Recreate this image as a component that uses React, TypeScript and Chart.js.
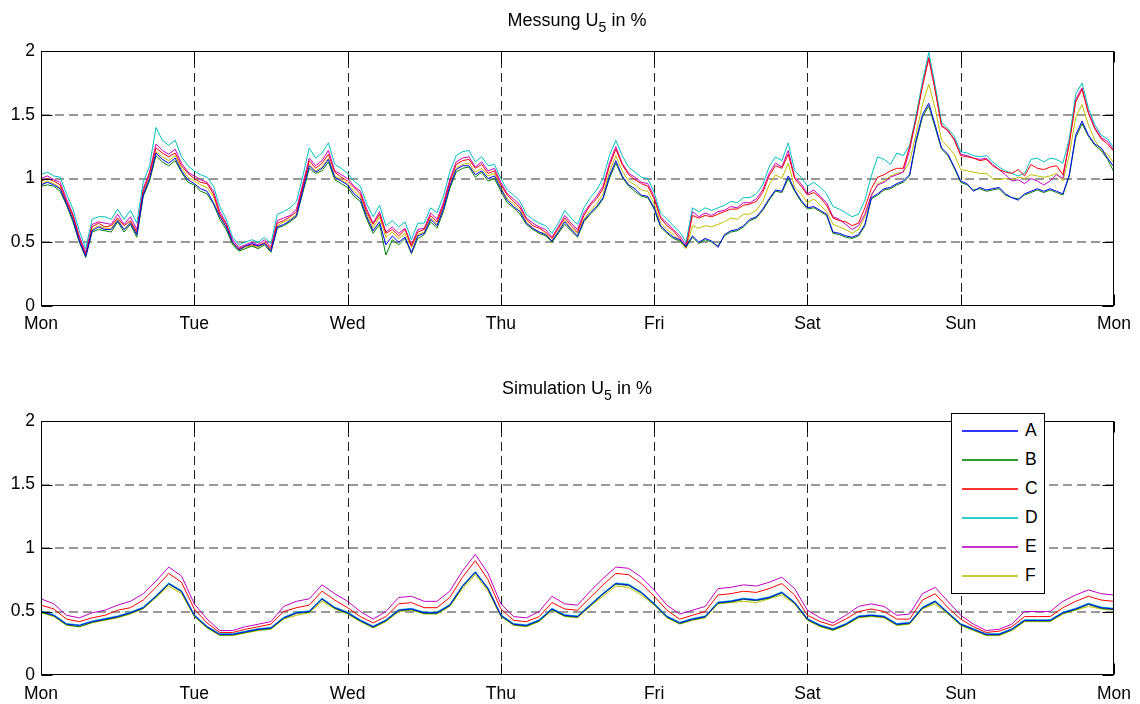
import React, { useEffect, useRef } from 'react';
import { Chart, registerables } from 'chart.js';

Chart.register(...registerables);

// ---------- axis labels / categories ----------
const dayLabels = ['Mon', 'Tue', 'Wed', 'Thu', 'Fri', 'Sat', 'Sun', 'Mon'];
const seriesNames = ['A', 'B', 'C', 'D', 'E', 'F'];
const seriesColors = ['#0000ff', '#008000', '#ff0000', '#00bfbf', '#bf00bf', '#bfbf00'];
const yMin = 0;
const yMax = 2;
const yStep = 0.5;
const hoursPerDay = 24;
const messungStepHours = 1;
const simulationStepHours = 2;

// ---------- Messung (measurement), hourly values in % ----------
const messA = [
  0.95, 0.97, 0.95, 0.92, 0.80, 0.68, 0.51, 0.39, 0.59, 0.62,
  0.60, 0.60, 0.67, 0.60, 0.65, 0.56, 0.87, 1.00, 1.20, 1.15,
  1.12, 1.16, 1.06, 0.99, 0.96, 0.92, 0.90, 0.81, 0.70, 0.62,
  0.50, 0.44, 0.47, 0.49, 0.47, 0.49, 0.43, 0.62, 0.64, 0.67,
  0.71, 0.91, 1.10, 1.05, 1.08, 1.15, 1.01, 0.98, 0.95, 0.88,
  0.84, 0.70, 0.59, 0.66, 0.48, 0.55, 0.50, 0.54, 0.42, 0.55,
  0.57, 0.68, 0.63, 0.76, 0.94, 1.07, 1.10, 1.10, 1.03, 1.06,
  1.00, 1.02, 0.92, 0.83, 0.78, 0.74, 0.65, 0.61, 0.58, 0.56,
  0.51, 0.58, 0.66, 0.60, 0.55, 0.67, 0.73, 0.78, 0.85, 1.02,
  1.14, 1.02, 0.95, 0.92, 0.87, 0.86, 0.77, 0.63, 0.58, 0.54,
  0.52, 0.47, 0.55, 0.50, 0.53, 0.51, 0.46, 0.56, 0.59, 0.60,
  0.63, 0.68, 0.70, 0.76, 0.84, 0.91, 0.90, 1.02, 0.91, 0.83,
  0.77, 0.78, 0.75, 0.72, 0.58, 0.57, 0.55, 0.54, 0.56, 0.64,
  0.85, 0.88, 0.92, 0.93, 0.96, 0.98, 1.03, 1.30, 1.50, 1.59,
  1.42, 1.24, 1.19, 1.09, 0.98, 0.96, 0.90, 0.93, 0.91, 0.92,
  0.93, 0.88, 0.85, 0.83, 0.88, 0.90, 0.92, 0.90, 0.92, 0.90,
  0.88, 1.03, 1.34, 1.45, 1.34, 1.27, 1.24, 1.16, 1.09,
];
const messB = [
  0.94, 0.95, 0.94, 0.90, 0.79, 0.66, 0.50, 0.38, 0.58, 0.60,
  0.59, 0.58, 0.66, 0.58, 0.64, 0.54, 0.86, 0.98, 1.18, 1.13,
  1.10, 1.14, 1.05, 0.97, 0.95, 0.90, 0.88, 0.80, 0.68, 0.60,
  0.48, 0.43, 0.45, 0.47, 0.45, 0.48, 0.42, 0.61, 0.63, 0.66,
  0.70, 0.89, 1.08, 1.04, 1.06, 1.13, 0.99, 0.96, 0.93, 0.86,
  0.82, 0.68, 0.57, 0.64, 0.40, 0.52, 0.48, 0.53, 0.41, 0.53,
  0.56, 0.66, 0.61, 0.74, 0.92, 1.05, 1.08, 1.09, 1.01, 1.05,
  0.98, 1.00, 0.90, 0.81, 0.77, 0.72, 0.64, 0.60, 0.57, 0.55,
  0.50, 0.57, 0.64, 0.59, 0.54, 0.66, 0.72, 0.77, 0.84, 1.00,
  1.12, 1.01, 0.94, 0.90, 0.86, 0.85, 0.76, 0.62, 0.57, 0.53,
  0.51, 0.46, 0.54, 0.49, 0.52, 0.50, 0.47, 0.55, 0.58, 0.59,
  0.62, 0.67, 0.69, 0.75, 0.83, 0.90, 0.89, 1.00, 0.90, 0.82,
  0.76, 0.77, 0.74, 0.71, 0.57, 0.56, 0.54, 0.53, 0.55, 0.63,
  0.84, 0.87, 0.91, 0.92, 0.95, 0.97, 1.02, 1.28, 1.48, 1.57,
  1.40, 1.23, 1.18, 1.08, 0.97, 0.95, 0.91, 0.92, 0.90, 0.91,
  0.92, 0.87, 0.85, 0.84, 0.87, 0.89, 0.91, 0.89, 0.91, 0.89,
  0.87, 1.02, 1.32, 1.43, 1.33, 1.26, 1.22, 1.15, 1.05,
];
const messC = [
  0.98, 1.00, 0.98, 0.95, 0.82, 0.71, 0.53, 0.40, 0.62, 0.65,
  0.62, 0.63, 0.69, 0.63, 0.67, 0.58, 0.90, 1.04, 1.24, 1.20,
  1.17, 1.20, 1.10, 1.04, 1.00, 0.97, 0.96, 0.88, 0.72, 0.64,
  0.50, 0.45, 0.47, 0.48, 0.47, 0.50, 0.45, 0.65, 0.67, 0.70,
  0.74, 0.94, 1.14, 1.08, 1.12, 1.19, 1.05, 1.01, 0.98, 0.93,
  0.88, 0.74, 0.64, 0.72, 0.57, 0.60, 0.55, 0.60, 0.47, 0.58,
  0.60, 0.71, 0.66, 0.79, 0.97, 1.11, 1.14, 1.15, 1.08, 1.11,
  1.04, 1.06, 0.95, 0.87, 0.82, 0.77, 0.68, 0.63, 0.61, 0.58,
  0.53, 0.61, 0.69, 0.63, 0.58, 0.71, 0.79, 0.84, 0.92, 1.10,
  1.23, 1.11, 1.03, 0.99, 0.96, 0.94, 0.84, 0.69, 0.63, 0.59,
  0.53, 0.46, 0.71, 0.69, 0.71, 0.70, 0.72, 0.74, 0.76, 0.76,
  0.79, 0.80, 0.82, 0.89, 1.02, 1.10, 1.08, 1.19, 1.00, 0.94,
  0.87, 0.89, 0.85, 0.79, 0.69, 0.67, 0.66, 0.63, 0.65, 0.77,
  0.92, 1.01, 1.03, 1.06, 1.08, 1.08, 1.25, 1.46, 1.72, 1.94,
  1.69, 1.41, 1.38, 1.30, 1.18, 1.17, 1.16, 1.14, 1.15, 1.10,
  1.07, 1.05, 1.04, 1.07, 1.02, 1.11, 1.08, 1.07, 1.09, 1.10,
  1.03, 1.27, 1.60, 1.70, 1.51, 1.39, 1.31, 1.27, 1.21,
];
const messD = [
  1.03, 1.05, 1.02, 1.01, 0.88, 0.76, 0.59, 0.45, 0.68, 0.70,
  0.70, 0.68, 0.76, 0.68, 0.75, 0.65, 0.97, 1.10, 1.40, 1.30,
  1.26, 1.30, 1.17, 1.10, 1.06, 1.03, 1.01, 0.94, 0.78, 0.68,
  0.54, 0.48, 0.50, 0.52, 0.50, 0.54, 0.49, 0.72, 0.74, 0.77,
  0.82, 1.02, 1.24, 1.16, 1.20, 1.28, 1.11, 1.08, 1.04, 0.98,
  0.94, 0.80, 0.70, 0.79, 0.63, 0.67, 0.62, 0.66, 0.52, 0.65,
  0.65, 0.77, 0.73, 0.86, 1.05, 1.18, 1.21, 1.22, 1.13, 1.17,
  1.10, 1.11, 1.00, 0.91, 0.87, 0.82, 0.72, 0.68, 0.65, 0.63,
  0.57, 0.65, 0.75, 0.69, 0.64, 0.77, 0.85, 0.91, 1.00, 1.18,
  1.30, 1.18, 1.09, 1.05, 1.01, 1.00, 0.89, 0.73, 0.68, 0.63,
  0.58, 0.50, 0.77, 0.74, 0.77, 0.75, 0.77, 0.79, 0.82, 0.81,
  0.85, 0.85, 0.88, 0.95, 1.09, 1.17, 1.14, 1.28, 1.06, 1.01,
  0.94, 0.97, 0.93, 0.88, 0.78, 0.76, 0.73, 0.70, 0.72, 0.83,
  1.02, 1.17, 1.15, 1.11, 1.20, 1.18, 1.26, 1.49, 1.76, 1.99,
  1.73, 1.44, 1.39, 1.33, 1.21, 1.20, 1.18, 1.17, 1.18, 1.13,
  1.09, 1.06, 1.04, 1.02, 1.04, 1.15, 1.16, 1.13, 1.16, 1.15,
  1.12, 1.31, 1.66, 1.75, 1.55, 1.42, 1.34, 1.31, 1.24,
];
const messE = [
  1.00, 1.02, 0.99, 0.97, 0.84, 0.72, 0.55, 0.42, 0.64, 0.66,
  0.65, 0.64, 0.72, 0.64, 0.70, 0.60, 0.92, 1.05, 1.27, 1.22,
  1.19, 1.23, 1.12, 1.05, 1.02, 0.99, 0.97, 0.90, 0.74, 0.65,
  0.52, 0.46, 0.48, 0.50, 0.48, 0.52, 0.46, 0.67, 0.69, 0.71,
  0.76, 0.96, 1.16, 1.10, 1.14, 1.22, 1.06, 1.03, 1.00, 0.94,
  0.90, 0.76, 0.65, 0.74, 0.58, 0.62, 0.57, 0.61, 0.48, 0.60,
  0.61, 0.73, 0.68, 0.81, 0.99, 1.13, 1.16, 1.17, 1.09, 1.13,
  1.06, 1.08, 0.97, 0.88, 0.84, 0.79, 0.69, 0.65, 0.62, 0.60,
  0.54, 0.62, 0.71, 0.65, 0.60, 0.73, 0.80, 0.86, 0.94, 1.12,
  1.25, 1.12, 1.04, 1.01, 0.97, 0.96, 0.86, 0.70, 0.65, 0.60,
  0.55, 0.48, 0.74, 0.70, 0.73, 0.71, 0.74, 0.75, 0.78, 0.77,
  0.81, 0.81, 0.84, 0.91, 1.04, 1.12, 1.09, 1.22, 1.01, 0.96,
  0.88, 0.91, 0.86, 0.81, 0.70, 0.68, 0.64, 0.60, 0.63, 0.72,
  0.87, 0.95, 0.97, 1.01, 1.03, 1.05, 1.22, 1.47, 1.73, 1.95,
  1.70, 1.42, 1.37, 1.31, 1.19, 1.18, 1.16, 1.15, 1.16, 1.11,
  1.07, 1.03, 0.98, 0.99, 0.96, 1.00, 0.98, 0.95, 0.98, 1.03,
  1.00, 1.29, 1.62, 1.71, 1.52, 1.40, 1.32, 1.29, 1.22,
];
const messF = [
  0.96, 0.98, 0.96, 0.93, 0.81, 0.69, 0.52, 0.40, 0.60, 0.63,
  0.61, 0.61, 0.68, 0.60, 0.66, 0.57, 0.88, 1.01, 1.21, 1.17,
  1.14, 1.18, 1.08, 1.01, 0.98, 0.95, 0.93, 0.86, 0.71, 0.62,
  0.49, 0.44, 0.46, 0.47, 0.46, 0.49, 0.44, 0.63, 0.66, 0.68,
  0.72, 0.92, 1.11, 1.06, 1.09, 1.16, 1.02, 0.99, 0.96, 0.90,
  0.86, 0.72, 0.61, 0.70, 0.54, 0.58, 0.53, 0.57, 0.46, 0.56,
  0.58, 0.69, 0.64, 0.77, 0.94, 1.08, 1.11, 1.12, 1.05, 1.08,
  1.02, 1.04, 0.93, 0.84, 0.80, 0.75, 0.66, 0.61, 0.58, 0.57,
  0.51, 0.59, 0.67, 0.61, 0.57, 0.68, 0.75, 0.80, 0.88, 1.05,
  1.18, 1.06, 0.98, 0.95, 0.91, 0.90, 0.80, 0.65, 0.60, 0.56,
  0.51, 0.45, 0.63, 0.61, 0.63, 0.62, 0.64, 0.66, 0.69, 0.68,
  0.72, 0.72, 0.75, 0.82, 0.95, 1.03, 1.00, 1.12, 0.93, 0.88,
  0.81, 0.84, 0.79, 0.74, 0.64, 0.62, 0.60, 0.57, 0.60, 0.70,
  0.86, 0.96, 0.98, 1.02, 1.04, 1.05, 1.13, 1.35, 1.58, 1.74,
  1.55, 1.30, 1.25, 1.19, 1.07, 1.06, 1.05, 1.04, 1.04, 1.00,
  0.99, 1.00, 0.99, 1.01, 1.00, 1.03, 1.02, 1.01, 1.02, 1.04,
  0.98, 1.18, 1.48, 1.58, 1.42, 1.30, 1.22, 1.19, 1.12,
];

// ---------- Simulation, two-hourly values in % ----------
const simA = [
  0.50, 0.47, 0.40, 0.39, 0.42, 0.44, 0.46, 0.49, 0.53, 0.62,
  0.72, 0.66, 0.47, 0.38, 0.32, 0.32, 0.34, 0.36, 0.37, 0.45,
  0.49, 0.50, 0.60, 0.53, 0.49, 0.43, 0.38, 0.43, 0.51, 0.52,
  0.49, 0.49, 0.55, 0.70, 0.81, 0.68, 0.47, 0.40, 0.39, 0.43,
  0.52, 0.47, 0.46, 0.55, 0.64, 0.72, 0.71, 0.65, 0.56, 0.46,
  0.41, 0.44, 0.46, 0.57, 0.58, 0.60, 0.59, 0.61, 0.65, 0.57,
  0.44, 0.39, 0.36, 0.40, 0.46, 0.47, 0.46, 0.40, 0.41, 0.53,
  0.58, 0.49, 0.40, 0.36, 0.32, 0.32, 0.36, 0.43, 0.43, 0.43,
  0.49, 0.52, 0.56, 0.53, 0.52,
];
const simB = [
  0.495, 0.465, 0.395, 0.38, 0.415, 0.435, 0.455, 0.485, 0.525, 0.615,
  0.715, 0.655, 0.465, 0.375, 0.315, 0.315, 0.335, 0.355, 0.365, 0.445,
  0.485, 0.495, 0.595, 0.525, 0.485, 0.425, 0.375, 0.425, 0.505, 0.515,
  0.485, 0.485, 0.545, 0.695, 0.805, 0.675, 0.465, 0.395, 0.385, 0.425,
  0.515, 0.465, 0.455, 0.545, 0.635, 0.715, 0.705, 0.645, 0.555, 0.455,
  0.405, 0.435, 0.455, 0.565, 0.575, 0.595, 0.585, 0.605, 0.645, 0.565,
  0.435, 0.385, 0.355, 0.395, 0.455, 0.465, 0.455, 0.395, 0.405, 0.525,
  0.575, 0.485, 0.395, 0.355, 0.315, 0.315, 0.355, 0.425, 0.425, 0.425,
  0.485, 0.515, 0.555, 0.525, 0.515,
];
const simC = [
  0.55, 0.52, 0.44, 0.42, 0.45, 0.47, 0.51, 0.53, 0.59, 0.69,
  0.80, 0.73, 0.52, 0.41, 0.335, 0.335, 0.36, 0.38, 0.40, 0.50,
  0.53, 0.55, 0.66, 0.59, 0.53, 0.46, 0.41, 0.46, 0.56, 0.57,
  0.53, 0.53, 0.61, 0.77, 0.90, 0.75, 0.52, 0.43, 0.42, 0.46,
  0.57, 0.52, 0.51, 0.61, 0.71, 0.80, 0.79, 0.72, 0.62, 0.51,
  0.44, 0.47, 0.50, 0.63, 0.64, 0.66, 0.65, 0.68, 0.72, 0.63,
  0.47, 0.42, 0.39, 0.44, 0.50, 0.52, 0.50, 0.44, 0.44, 0.59,
  0.64, 0.53, 0.44, 0.38, 0.335, 0.345, 0.38, 0.46, 0.46, 0.46,
  0.53, 0.58, 0.62, 0.59, 0.58,
];
const simD = [
  0.505, 0.475, 0.405, 0.395, 0.425, 0.445, 0.465, 0.495, 0.535, 0.625,
  0.725, 0.665, 0.475, 0.385, 0.325, 0.325, 0.345, 0.365, 0.375, 0.455,
  0.495, 0.505, 0.605, 0.535, 0.495, 0.435, 0.385, 0.435, 0.515, 0.525,
  0.495, 0.495, 0.555, 0.705, 0.815, 0.685, 0.475, 0.405, 0.395, 0.435,
  0.525, 0.475, 0.465, 0.555, 0.645, 0.725, 0.715, 0.655, 0.565, 0.465,
  0.415, 0.445, 0.465, 0.575, 0.585, 0.605, 0.595, 0.615, 0.655, 0.575,
  0.445, 0.395, 0.365, 0.405, 0.465, 0.475, 0.465, 0.405, 0.415, 0.535,
  0.585, 0.495, 0.405, 0.365, 0.325, 0.325, 0.365, 0.435, 0.435, 0.435,
  0.495, 0.525, 0.565, 0.535, 0.525,
];
const simE = [
  0.60, 0.56, 0.47, 0.45, 0.49, 0.51, 0.55, 0.58, 0.64, 0.74,
  0.85, 0.78, 0.56, 0.44, 0.35, 0.35, 0.38, 0.40, 0.42, 0.54,
  0.58, 0.60, 0.71, 0.64, 0.58, 0.50, 0.44, 0.50, 0.61, 0.62,
  0.58, 0.58, 0.66, 0.82, 0.95, 0.80, 0.56, 0.46, 0.45, 0.50,
  0.62, 0.56, 0.55, 0.66, 0.76, 0.85, 0.84, 0.77, 0.67, 0.55,
  0.48, 0.51, 0.54, 0.68, 0.69, 0.71, 0.70, 0.73, 0.77, 0.68,
  0.51, 0.45, 0.41, 0.47, 0.54, 0.56, 0.54, 0.47, 0.48, 0.64,
  0.69, 0.58, 0.47, 0.40, 0.35, 0.36, 0.40, 0.50, 0.50, 0.50,
  0.58, 0.63, 0.67, 0.64, 0.63,
];
const simF = [
  0.49, 0.46, 0.39, 0.38, 0.41, 0.43, 0.45, 0.48, 0.52, 0.61,
  0.70, 0.64, 0.46, 0.37, 0.31, 0.31, 0.33, 0.35, 0.36, 0.44,
  0.47, 0.49, 0.58, 0.52, 0.48, 0.42, 0.37, 0.42, 0.50, 0.51,
  0.48, 0.48, 0.54, 0.68, 0.79, 0.66, 0.46, 0.39, 0.38, 0.42,
  0.51, 0.46, 0.45, 0.54, 0.62, 0.70, 0.69, 0.63, 0.55, 0.45,
  0.40, 0.43, 0.45, 0.56, 0.57, 0.58, 0.57, 0.60, 0.63, 0.56,
  0.43, 0.38, 0.35, 0.39, 0.45, 0.46, 0.45, 0.39, 0.40, 0.52,
  0.56, 0.48, 0.39, 0.35, 0.31, 0.31, 0.35, 0.42, 0.42, 0.42,
  0.48, 0.51, 0.54, 0.52, 0.51,
];

const messSeries = [messA, messB, messC, messD, messE, messF];
const simSeries = [simA, simB, simC, simD, simE, simF];

const FONT_FAMILY = "'Liberation Sans', Arial, Helvetica, sans-serif";

// MATLAB-like axes: dashed grid beneath data, solid box with inward ticks on top
const matlabAxes = {
  id: 'matlabAxes',
  beforeDatasetsDraw(chart: any) {
    const { ctx, chartArea: a, scales } = chart;
    const xs = scales.x;
    const ys = scales.y;
    ctx.save();
    ctx.lineWidth = 1;
    ctx.setLineDash([9, 5]);
    ctx.strokeStyle = '#222';
    xs.ticks.forEach((t: any) => {
      const x = Math.round(xs.getPixelForValue(t.value)) + 0.5;
      if (x < a.left + 2 || x > a.right - 2) return;
      ctx.beginPath();
      ctx.moveTo(x, a.bottom);
      ctx.lineTo(x, a.top);
      ctx.stroke();
    });
    ctx.strokeStyle = '#333';
    ys.ticks.forEach((t: any) => {
      const y = Math.round(ys.getPixelForValue(t.value));
      if (y < a.top + 2 || y > a.bottom - 2) return;
      ctx.beginPath();
      ctx.moveTo(a.left, y);
      ctx.lineTo(a.right, y);
      ctx.stroke();
    });
    ctx.restore();
  },
  afterDatasetsDraw(chart: any) {
    const { ctx, chartArea: a, scales } = chart;
    const xs = scales.x;
    const ys = scales.y;
    const tick = 11;
    ctx.save();
    ctx.setLineDash([]);
    ctx.strokeStyle = '#000';
    ctx.lineWidth = 1;
    const l = Math.round(a.left) + 0.5;
    const r = Math.round(a.right) - 0.5;
    const t = Math.round(a.top) + 0.5;
    const b = Math.round(a.bottom) - 0.5;
    ctx.strokeRect(l, t, r - l, b - t);
    ctx.beginPath();
    xs.ticks.forEach((tk: any) => {
      const x = Math.round(xs.getPixelForValue(tk.value)) + 0.5;
      ctx.moveTo(x, b);
      ctx.lineTo(x, b - tick);
      ctx.moveTo(x, t);
      ctx.lineTo(x, t + tick);
    });
    ys.ticks.forEach((tk: any) => {
      const y = Math.round(ys.getPixelForValue(tk.value)) + 0.5;
      ctx.moveTo(l, y);
      ctx.lineTo(l + tick, y);
      ctx.moveTo(r, y);
      ctx.lineTo(r - tick, y);
    });
    ctx.stroke();
    ctx.restore();
  },
};

type PanelProps = {
  series: number[][];
  stepHours: number;
  top: number;
  height: number;
  padTop: number;
  axisHeight: number;
  labelPad: number;
};

function Panel({ series, stepHours, top, height, padTop, axisHeight, labelPad }: PanelProps) {
  const ref = useRef<HTMLCanvasElement | null>(null);
  useEffect(() => {
    if (!ref.current) return;
    const tickFont = { family: FONT_FAMILY, size: 17.5 };
    const chart = new Chart(ref.current, {
      type: 'line',
      data: {
        datasets: series.map((vals, k) => ({
          label: seriesNames[k],
          data: vals.map((v, i) => ({ x: i * stepHours, y: v })),
          borderColor: seriesColors[k],
          backgroundColor: seriesColors[k],
          borderWidth: 1,
          pointRadius: 0,
          tension: 0,
          fill: false,
        })),
      },
      options: {
        responsive: false,
        maintainAspectRatio: false,
        animation: false,
        devicePixelRatio: 1,
        layout: { padding: { left: 0, right: 26, top: padTop, bottom: 0 } },
        plugins: {
          legend: { display: false },
          tooltip: { enabled: false },
          title: { display: false },
        },
        scales: {
          x: {
            type: 'linear',
            min: 0,
            max: hoursPerDay * (dayLabels.length - 1),
            ticks: {
              stepSize: hoursPerDay,
              autoSkip: false,
              maxRotation: 0,
              minRotation: 0,
              padding: labelPad,
              color: '#000',
              font: tickFont,
              callback: (v: any) => dayLabels[Math.round(Number(v) / hoursPerDay)],
            },
            grid: { display: false, drawTicks: false },
            border: { display: false },
            afterFit: (s: any) => {
              s.height = axisHeight;
            },
          },
          y: {
            min: yMin,
            max: yMax,
            ticks: {
              stepSize: yStep,
              padding: 6,
              color: '#000',
              font: tickFont,
              callback: (v: any) => String(v),
            },
            grid: { display: false, drawTicks: false },
            border: { display: false },
            afterFit: (s: any) => {
              s.width = 41;
            },
          },
        },
      } as any,
      plugins: [matlabAxes],
    });
    return () => chart.destroy();
  }, [series, stepHours, padTop, axisHeight, labelPad]);
  return (
    <canvas
      ref={ref}
      width={1140}
      height={height}
      style={{ position: 'absolute', left: 0, top, width: 1140, height, display: 'block' }}
    />
  );
}

function Title({ main, top }: { main: string; top: number }) {
  return (
    <div
      style={{
        position: 'absolute',
        left: 377,
        width: 400,
        top,
        textAlign: 'center',
        fontFamily: FONT_FAMILY,
        fontSize: 18,
        lineHeight: '20px',
        color: '#000',
        whiteSpace: 'nowrap',
      }}
    >
      {main} U<span style={{ fontSize: 14, verticalAlign: '-6px' }}>5</span> in %
    </div>
  );
}

function Legend() {
  const rowTop = [17, 46, 75, 104, 133, 162];
  return (
    <div
      style={{
        position: 'absolute',
        left: 951,
        top: 413,
        width: 94,
        height: 181,
        boxSizing: 'border-box',
        border: '1px solid #000',
        background: '#fff',
        fontFamily: FONT_FAMILY,
        fontSize: 17.5,
        color: '#000',
      }}
    >
      {seriesNames.map((name, k) => (
        <React.Fragment key={name}>
          <div
            style={{
              position: 'absolute',
              left: 10,
              top: rowTop[k] - 1,
              width: 56,
              height: 2,
              background: seriesColors[k],
              opacity: 0.8,
            }}
          />
          <div
            style={{
              position: 'absolute',
              left: 73,
              top: rowTop[k] - 11,
              lineHeight: '20px',
            }}
          >
            {name}
          </div>
        </React.Fragment>
      ))}
    </div>
  );
}

export default function App() {
  return (
    <div
      style={{
        position: 'fixed',
        left: 0,
        top: 0,
        width: 1140,
        height: 704,
        background: '#fff',
        overflow: 'hidden',
      }}
    >
      <Panel
        series={messSeries}
        stepHours={messungStepHours}
        top={0}
        height={352}
        padTop={51}
        axisHeight={46}
        labelPad={8}
      />
      <Panel
        series={simSeries}
        stepHours={simulationStepHours}
        top={352}
        height={352}
        padTop={69}
        axisHeight={29}
        labelPad={9}
      />
      <Title main="Messung" top={10} />
      <Title main="Simulation" top={378} />
      <Legend />
    </div>
  );
}
